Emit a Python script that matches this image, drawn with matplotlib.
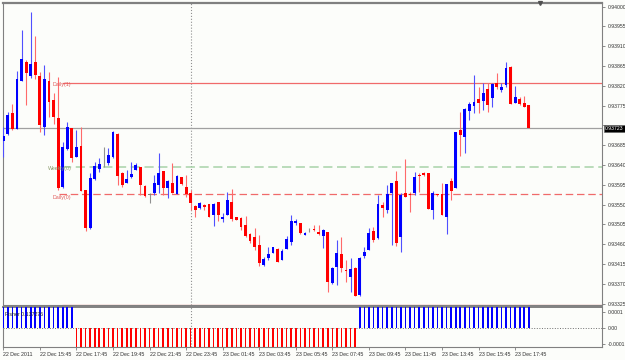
import numpy as np
import matplotlib
matplotlib.use('Agg')
import matplotlib.pyplot as plt
from matplotlib.transforms import blended_transform_factory

plt.rcParams['font.family'] = ['Liberation Sans', 'DejaVu Sans']

# 15 min candles, 22 Dec 13:45 .. 23 Dec 18:30 (price x 1e5)
opens = [93695, 93711, 93758, 93722, 93831, 93874, 93842, 93874, 93842, 93726,
         93831, 93788, 93747, 93590, 93677, 93724, 93658, 93683, 93583, 93497,
         93609, 93631, 93646, 93644, 93658, 93711, 93622, 93599, 93613, 93629,
         93635, 93592, 93572, 93576, 93595, 93627, 93588, 93599, 93574, 93613,
         93590, 93576, 93546, 93542, 93549, 93551, 93527, 93555, 93518, 93527,
         93555, 93522, 93520, 93504, 93483, 93476, 93459, 93413, 93429, 93440,
         93449, 93424, 93449, 93465, 93508, 93508, 93481, 93492, 93495, 93488,
         93478, 93488, 93372, 93408, 93438, 93401, 93385, 93406, 93345, 93433,
         93447, 93490, 93474, 93549, 93538, 93576, 93604, 93476, 93576, 93574,
         93576, 93618, 93622, 93622, 93538, 93574, 93574, 93522, 93604, 93588,
         93720, 93704, 93763, 93774, 93790, 93786, 93813, 93792, 93826, 93810,
         93822, 93863, 93781, 93790, 93781, 93777]
highs = [93726, 93760, 93779, 93854, 93947, 93879, 93987, 93933, 93851, 93868,
         93851, 93803, 93840, 93692, 93737, 93724, 93720, 93726, 93583, 93622,
         93646, 93656, 93681, 93679, 93718, 93713, 93624, 93629, 93646, 93644,
         93635, 93595, 93576, 93618, 93667, 93627, 93606, 93644, 93618, 93613,
         93618, 93583, 93549, 93555, 93551, 93551, 93553, 93555, 93531, 93578,
         93586, 93522, 93522, 93524, 93485, 93497, 93481, 93431, 93454, 93454,
         93452, 93449, 93478, 93527, 93518, 93508, 93488, 93497, 93504, 93504,
         93495, 93488, 93408, 93470, 93476, 93424, 93429, 93408, 93431, 93454,
         93497, 93499, 93572, 93555, 93595, 93599, 93627, 93576, 93654, 93578,
         93624, 93622, 93624, 93622, 93581, 93574, 93599, 93597, 93611, 93715,
         93760, 93770, 93783, 93845, 93817, 93826, 93826, 93826, 93849, 93826,
         93874, 93865, 93820, 93795, 93797, 93777]
lows = [93658, 93709, 93720, 93722, 93831, 93777, 93838, 93836, 93715, 93709,
        93749, 93733, 93583, 93588, 93674, 93646, 93658, 93581, 93490, 93495,
        93606, 93624, 93635, 93640, 93656, 93595, 93590, 93599, 93611, 93629,
        93572, 93567, 93553, 93572, 93576, 93572, 93565, 93576, 93574, 93595,
        93567, 93538, 93522, 93540, 93538, 93522, 93501, 93513, 93510, 93527,
        93513, 93515, 93492, 93476, 93463, 93447, 93410, 93410, 93424, 93440,
        93419, 93424, 93449, 93459, 93504, 93483, 93481, 93488, 93490, 93481,
        93452, 93351, 93370, 93367, 93397, 93374, 93351, 93342, 93342, 93429,
        93447, 93465, 93472, 93522, 93531, 93459, 93456, 93442, 93567, 93533,
        93572, 93578, 93615, 93540, 93518, 93569, 93527, 93483, 93560, 93588,
        93661, 93667, 93742, 93758, 93758, 93765, 93760, 93772, 93813, 93806,
        93817, 93779, 93781, 93777, 93772, 93723]
closes = [93706, 93754, 93722, 93836, 93881, 93849, 93870, 93845, 93731, 93836,
          93783, 93749, 93588, 93681, 93726, 93656, 93681, 93581, 93497, 93611,
          93637, 93642, 93646, 93663, 93715, 93615, 93595, 93609, 93620, 93640,
          93595, 93569, 93572, 93599, 93622, 93588, 93604, 93576, 93615, 93597,
          93574, 93553, 93538, 93553, 93544, 93522, 93551, 93527, 93522, 93560,
          93518, 93515, 93499, 93478, 93468, 93454, 93417, 93427, 93438, 93454,
          93419, 93445, 93472, 93513, 93513, 93485, 93485, 93492, 93492, 93483,
          93492, 93374, 93406, 93440, 93406, 93399, 93404, 93342, 93429, 93442,
          93485, 93470, 93551, 93542, 93574, 93599, 93463, 93572, 93567, 93572,
          93613, 93615, 93618, 93540, 93576, 93572, 93527, 93597, 93581, 93715,
          93709, 93767, 93779, 93783, 93781, 93804, 93777, 93824, 93817, 93817,
          93860, 93779, 93795, 93779, 93772, 93723]

# Fisher histogram (all bars run off the +/-0.0001 scale)
fisher = [0.137] * 16 + [-0.137] * 62 + [0.137276] * 38

date_labels = ["22 Dec 2011", "22 Dec 15:45", "22 Dec 17:45", "22 Dec 19:45",
               "22 Dec 21:45", "22 Dec 23:45", "23 Dec 01:45", "23 Dec 03:45",
               "23 Dec 05:45", "23 Dec 07:45", "23 Dec 09:45", "23 Dec 11:45",
               "23 Dec 13:45", "23 Dec 15:45", "23 Dec 17:45"]
price_ticks = [0.94000, 0.93955, 0.93910, 0.93865, 0.93820, 0.93775, 0.93730,
               0.93685, 0.93640, 0.93595, 0.93550, 0.93505, 0.93460, 0.93415,
               0.93370, 0.93325]

daily1 = 0.93826
weekly0 = 0.93636
daily0 = 0.93574
low_line = 0.93323
last_price = 0.93723

BG = '#fcfdfa'
BLUE = '#0000ff'
RED = '#ff0000'

o = np.array(opens) / 1e5
h = np.array(highs) / 1e5
l = np.array(lows) / 1e5
c = np.array(closes) / 1e5
n = len(o)
x = np.arange(n)

W, H = 625, 360
fig = plt.figure(figsize=(W / 100, H / 100), dpi=100, facecolor=BG)


def px_axes(x0, y0, x1, y1):
    return fig.add_axes([x0 / W, 1 - y1 / H, (x1 - x0) / W, (y1 - y0) / H])


ax = px_axes(2.5, 3, 602, 305)
ax2 = px_axes(2.5, 307, 602, 347)
xlim = (-0.17, 131.0)

for a in (ax, ax2):
    a.set_facecolor(BG)
    a.set_xlim(*xlim)
    for s in a.spines.values():
        s.set_color('#808080')
        s.set_linewidth(0.8)
ax.spines['top'].set_linewidth(1.6)
ax2.spines['top'].set_linewidth(1.4)

# ---- candles
body_col = np.where(c > o, BLUE, np.where(c < o, RED, '#808080'))
wick_col = np.where(c > o, '#5050ff', np.where(c < o, '#ff6a6a', '#909090'))
ax.vlines(x, l, h, colors=wick_col, lw=0.8, zorder=3)
ax.bar(x, np.maximum(np.abs(c - o), 0.000012), bottom=np.minimum(o, c),
       width=0.62, color=body_col, lw=0, zorder=4)

# ---- level lines
ax.axhline(last_price, color='#a0a0a0', lw=0.9, zorder=2)
ax.hlines(daily1, 12.8, xlim[1], color='#f06a6a', lw=0.9, zorder=2)
ax.hlines(weekly0, 12.8, xlim[1], color='#a8d2a8', lw=1.1,
          linestyles=(0, (6, 3)), zorder=2)
ax.hlines(daily0, 12.3, xlim[1], color='#f06a6a', lw=0.9,
          linestyles=(0, (6, 3)), zorder=2)
ax.hlines(low_line, 12.8, xlim[1], color='#f06a6a', lw=0.9, zorder=2)
ax.text(12.9, daily1 - 0.00003, 'Daily(1)', color='#e05a5a', fontsize=3.8,
        ha='center', va='center', zorder=5)
ax.text(12.4, weekly0 - 0.00003, 'Weekly(0)', color='#8a9a6a', fontsize=3.8,
        ha='center', va='center', zorder=5)
ax.text(12.9, daily0 - 0.00008, 'Daily(0)', color='#e05a5a', fontsize=3.8,
        ha='center', va='center', zorder=5)

# day separator
for a in (ax, ax2):
    a.axvline(41, color='#909090', ls=':', lw=0.8, zorder=1)

ax.set_ylim(0.93322, 0.94008)
ax.set_xticks([])
ax.yaxis.tick_right()
ax.set_yticks(price_ticks)
# the 0.93730 label sits under the last-price box, so leave it blank
ax.set_yticklabels(['' if abs(t - 0.93730) < 1e-7 else f'{t:.5f}'
                    for t in price_ticks])
ax.tick_params(axis='y', labelsize=3.7, length=2.5, width=0.5, pad=1.5,
               color='#606060', labelcolor='#303030')

# last price box
ax.annotate(f'{last_price:.5f}', xy=(1, last_price),
            xycoords=blended_transform_factory(ax.transAxes, ax.transData),
            xytext=(2.2, 0), textcoords='offset points', va='center', ha='left',
            fontsize=3.7, color='white', zorder=10, annotation_clip=False,
            bbox=dict(boxstyle='square,pad=0.2', fc='black', ec='#606060', lw=0.4))

# chart shift marker
ax.plot([117.4], [1.0], marker='v', ms=2.8, color='#505050',
        transform=blended_transform_factory(ax.transData, ax.transAxes),
        clip_on=False, zorder=10)

# ---- Fisher panel
fish = np.array(fisher)
ax2.axhline(0, color='#707070', ls=':', lw=0.7, zorder=1)
ax2.bar(x, fish, width=0.36, color=np.where(fish > 0, BLUE, RED), lw=0, zorder=3)
ax2.set_ylim(-0.000119, 0.000131)
ax2.yaxis.tick_right()
ax2.set_yticks([0.0001, 0.0, -0.0001])
ax2.set_yticklabels(['0.0001', '0.00', '-0.0001'])
ax2.tick_params(axis='y', labelsize=3.7, length=2.5, width=0.5, pad=1.5,
                color='#606060', labelcolor='#303030')
ax2.text(0.004, 0.82, 'Fisher 0.137276', transform=ax2.transAxes,
         fontsize=3.8, color='#202020', va='center', ha='left', zorder=5)

ax2.set_xticks(np.arange(0, n, 8)[:len(date_labels)])
ax2.set_xticklabels(date_labels)
for t in ax2.get_xticklabels():
    t.set_horizontalalignment('left')
ax2.tick_params(axis='x', labelsize=3.8, length=2.5, width=0.5, pad=1.0,
                color='#606060', labelcolor='#303030')

fig.savefig('out.png', dpi=100, facecolor=BG)
